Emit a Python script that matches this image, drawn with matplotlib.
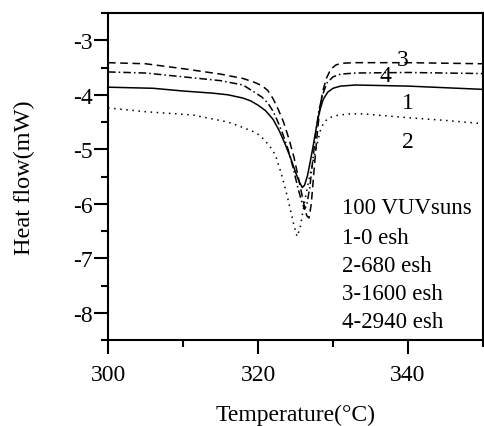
import matplotlib
matplotlib.use("Agg")
import matplotlib.pyplot as plt
from matplotlib.ticker import MultipleLocator

plt.rcParams['font.family'] = ['Liberation Serif', 'DejaVu Serif']
plt.rcParams['axes.unicode_minus'] = False

# Curve 1 (0 esh) - solid
t1 = [300, 303, 306, 310, 314, 316, 318, 319, 320, 321, 322, 322.8, 323.6, 324.4, 325.0, 325.5,
      325.9, 326.2, 326.6, 327.0, 327.4, 327.8, 328.2, 328.7, 329.3, 330, 331, 333, 340, 345, 350]
h1 = [-3.86, -3.87, -3.88, -3.93, -3.97, -4.0, -4.06, -4.11, -4.19, -4.29, -4.45, -4.65, -4.9,
      -5.18, -5.42, -5.6, -5.70, -5.66, -5.48, -5.2, -4.9, -4.58, -4.3, -4.08, -3.95, -3.88,
      -3.84, -3.82, -3.84, -3.87, -3.9]

# Curve 2 (680 esh) - dotted
t2 = [300, 305, 311.3, 316, 318, 319.8, 320.8, 321.6, 322.3, 323, 323.7, 324.3, 324.8, 325.2,
      325.6, 326.1, 326.6, 327.2, 327.8, 328.3, 328.8, 329.5, 330.5, 332, 334, 340, 345, 350]
h2 = [-4.24, -4.31, -4.37, -4.5, -4.6, -4.70, -4.82, -4.95, -5.1, -5.4, -5.75, -6.1, -6.4, -6.6,
      -6.45, -6.05, -5.68, -5.3, -4.95, -4.66, -4.5, -4.42, -4.38, -4.35, -4.35, -4.42, -4.47, -4.53]

# Curve 3 (1600 esh) - dashed
t3 = [300, 305, 310, 315, 318, 319.5, 320.5, 321.3, 322, 322.7, 323.4, 324.1, 324.8, 325.5,
      326.1, 326.5, 326.8, 327.1, 327.4, 327.8, 328.2, 328.6, 329.1, 329.7, 330.4, 331.2, 333,
      340, 350]
h3 = [-3.41, -3.43, -3.52, -3.62, -3.70, -3.77, -3.83, -3.92, -4.07, -4.27, -4.5, -4.8, -5.15,
      -5.6, -6.0, -6.22, -6.26, -6.0, -5.5, -4.85, -4.3, -3.95, -3.7, -3.53, -3.45, -3.42, -3.41,
      -3.41, -3.43]

# Curve 4 (2940 esh) - dash-dot
t4 = [300, 305, 310, 315, 318, 319.5, 320.5, 321.3, 322, 322.6, 323.3, 324, 324.7, 325.3, 325.8,
      326.2, 326.5, 326.9, 327.3, 327.7, 328.1, 328.6, 329.2, 330, 331, 333, 340, 350]
h4 = [-3.58, -3.60, -3.67, -3.74, -3.82, -3.95, -4.04, -4.15, -4.3, -4.48, -4.72, -5.0, -5.35,
      -5.7, -5.95, -6.1, -6.02, -5.7, -5.2, -4.7, -4.3, -4.0, -3.78, -3.67, -3.62, -3.60, -3.59,
      -3.61]

curve_labels = ['1', '2', '3', '4']
curve_label_pos = [(340, -4.15), (340, -4.86), (339.3, -3.36), (337.0, -3.64)]
legend_lines = ['100 VUVsuns', '1-0 esh', '2-680 esh', '3-1600 esh', '4-2940 esh']

fig = plt.figure(figsize=(4.85, 4.27), dpi=100)
ax = fig.add_axes([0.2227, 0.2014, 0.7733, 0.7656])

ax.plot(t1, h1, color='black', lw=1.1, ls='-')
ax.plot(t2, h2, color='black', lw=1.1, ls=(0, (1, 3)))
ax.plot(t3, h3, color='black', lw=1.1, ls=(0, (5, 3)))
ax.plot(t4, h4, color='black', lw=1.1, ls=(0, (5, 2, 1, 2)))

for lab, (x, y) in zip(curve_labels, curve_label_pos):
    ax.text(x, y, lab, fontsize=17, ha='center', va='center')

ys = [-6.07, -6.62, -7.14, -7.65, -8.16]
for s, y in zip(legend_lines, ys):
    ax.text(331.2, y, s, fontsize=16.5, ha='left', va='center')

ax.set_xlim(300, 350)
ax.set_ylim(-8.5, -2.5)
ax.xaxis.set_major_locator(MultipleLocator(20))
ax.xaxis.set_minor_locator(MultipleLocator(10))
ax.yaxis.set_major_locator(MultipleLocator(1))
ax.yaxis.set_minor_locator(MultipleLocator(0.5))
ax.tick_params(which='both', direction='out', top=False, right=False, width=1.5, labelsize=17)
ax.tick_params(which='major', length=10)
ax.tick_params(which='minor', length=5)
ax.tick_params(axis='x', which='major', pad=7)
ax.tick_params(axis='y', which='major', pad=1)
for sp in ax.spines.values():
    sp.set_linewidth(1.5)

ax.set_xlabel('Temperature(°C)', fontsize=17, labelpad=14)
ax.set_ylabel('Heat flow(mW)', fontsize=17.5, labelpad=27)

fig.savefig('out.png', dpi=100)
